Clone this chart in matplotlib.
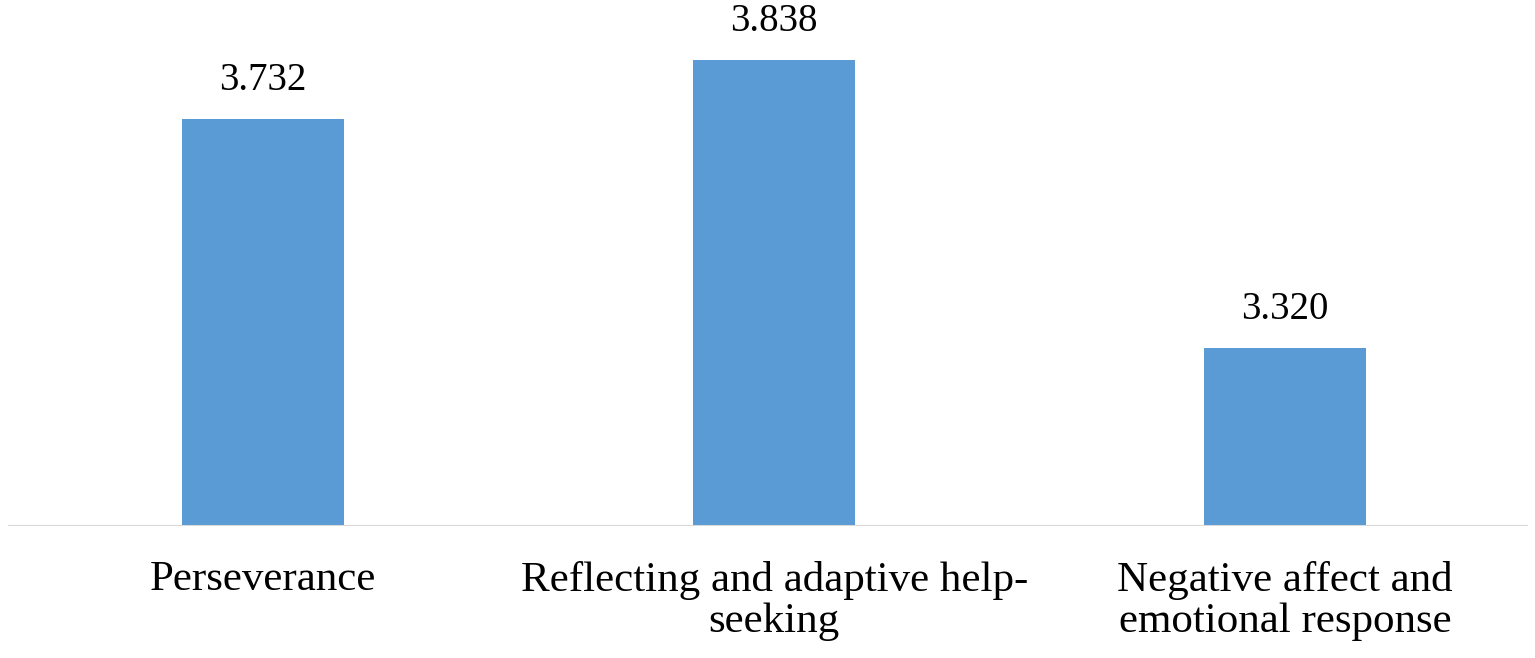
import matplotlib
matplotlib.use("Agg")
from matplotlib import pyplot as plt

categories = ["Perseverance", "Reflecting and adaptive help-\nseeking", "Negative affect and\nemotional response"]
values = [3.732, 3.838, 3.320]
value_labels = ["3.732", "3.838", "3.320"]

plt.rcParams['font.family'] = ['Liberation Serif', 'DejaVu Serif']

W, H = 1535, 658
fig = plt.figure(figsize=(W / 100, H / 100), dpi=100, facecolor='white')
# baseline at y=526 px from top, ~556 px per unit
ax = fig.add_axes([8 / W, (H - 526) / H, 1520 / W, 526 / H], frameon=False)

x = range(len(categories))
ax.bar(x, values, width=0.317, bottom=0, color='#5B9BD5', zorder=2)
ax.set_ylim(3.0, 3.0 + 526 / 556)
ax.set_xlim(-0.499, 2.475)
ax.axhline(3.0, color='#D9D9D9', lw=2.2, zorder=3)

for i, (v, s) in enumerate(zip(values, value_labels)):
    ax.annotate(s, (i, v), xytext=(0, 20), textcoords='offset pixels',
                ha='center', va='bottom', fontsize=28, color='#000000')

ax.set_yticks([])
ax.set_xticks(list(x))
ax.set_xticklabels(categories, fontsize=31, linespacing=1.08, va='top')
ax.tick_params(axis='x', length=0, pad=25)

fig.savefig('out.png', dpi=100, facecolor='white')
